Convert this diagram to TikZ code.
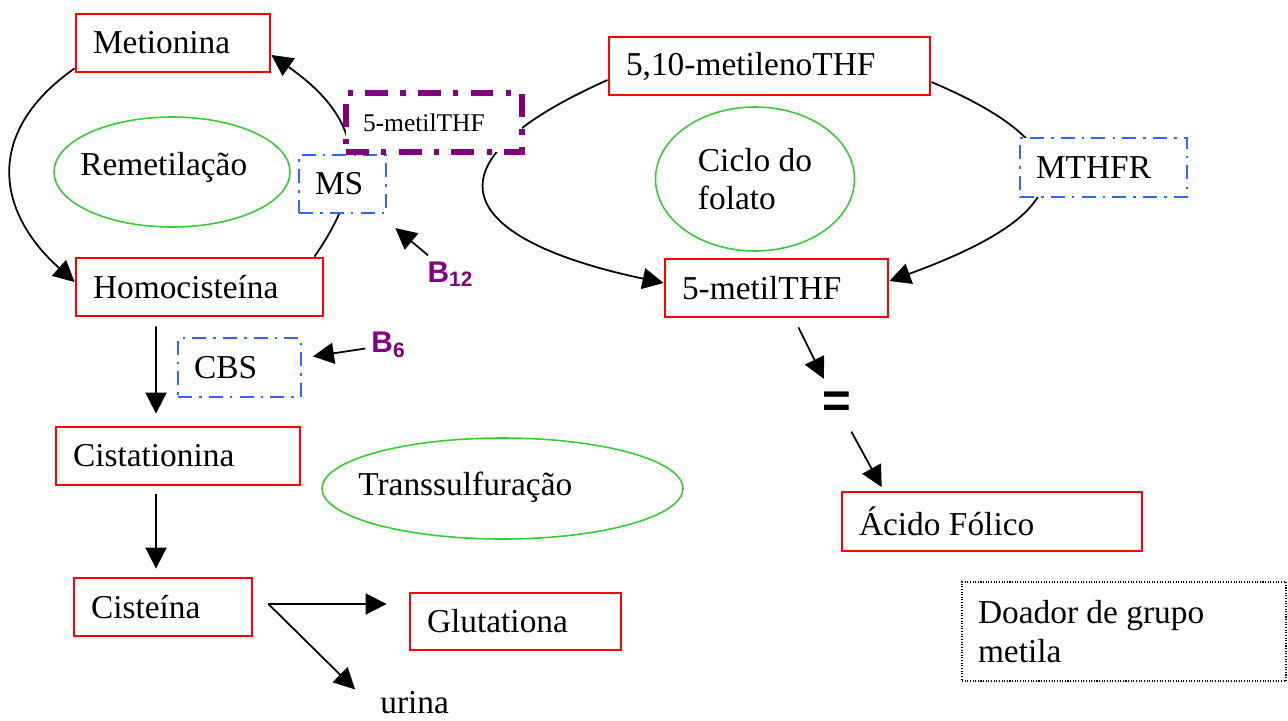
\documentclass[tikz,border=0pt]{standalone}
\usepackage{fontspec}
\setmainfont{Liberation Serif}
\setsansfont{Liberation Sans}
\definecolor{boxred}{RGB}{255,0,0}
\definecolor{ovalgreen}{RGB}{51,204,51}
\definecolor{enzblue}{RGB}{51,102,255}
\definecolor{vitpurple}{RGB}{128,0,128}
\usetikzlibrary{arrows.meta,shapes.geometric,backgrounds}

\begin{document}
\begin{tikzpicture}[font=\fontsize{19}{22}\selectfont,
  arr/.style={-{Triangle[length=12pt,width=12pt]},line width=1pt},
  metab/.style={draw=boxred,line width=1.6pt,inner xsep=0.34cm,minimum height=1.16cm,align=flush left},
  enzyme/.style={draw=enzblue,fill=white,line width=1.1pt,dash pattern=on 8pt off 4pt on 1.5pt off 4pt,inner xsep=0.32cm,minimum height=1.18cm,align=flush left},
  oval/.style={ellipse,draw=ovalgreen,line width=0.9pt,inner sep=0pt,align=flush left},
  vit/.style={text=vitpurple,font=\fontsize{17}{20}\selectfont\sffamily\bfseries}]
  \useasboundingbox (0,0) rectangle (25.76,-14.4);
  \node[metab,text width=3.20cm] (met) at (3.46,-0.86) {Metionina};
  \node[metab,text width=4.26cm] (homo) at (3.99,-5.74) {Homocisteína};
  \node[metab,text width=5.74cm] (metil) at (15.39,-1.32) {5,10-metilenoTHF};
  \node[metab,text width=3.78cm] (mthf) at (15.53,-5.76) {5-metilTHF};
  \node[metab,text width=4.20cm] (cist) at (3.56,-9.12) {Cistationina};
  \node[metab,text width=2.88cm] (ciste) at (3.26,-12.14) {Cisteína};
  \node[metab,text width=3.54cm,minimum height=1.14cm] (glut) at (10.31,-12.43) {Glutationa};
  \node[metab,text width=5.32cm,minimum height=1.18cm] (acido) at (19.84,-10.43) {Ácido Fólico};
  % enzimas
  \node[enzyme,text width=1.10cm,minimum height=1.16cm] (ms) at (6.85,-3.68) {MS};
  \node[enzyme,text width=2.70cm] (mthfr) at (22.07,-3.35) {MTHFR};
  \node[enzyme,text width=1.82cm] (cbs) at (4.79,-7.35) {CBS};
  \node[draw=vitpurple,fill=white,line width=3.4pt,dash pattern=on 13pt off 7pt on 3pt off 7pt,inner xsep=0.34cm,minimum height=1.18cm,text width=2.84cm,align=flush left,font=\fontsize{14.5}{17}\selectfont] (donor) at (8.68,-2.45) {5-metilTHF};
  % ciclos
  \node[oval,minimum width=4.72cm,minimum height=2.2cm] (remet) at (3.44,-3.44) {};
  \node[anchor=west,inner sep=0pt] (remettxt) at (1.6,-3.34) {Remetilação};
  \node[oval,minimum width=3.98cm,minimum height=2.88cm] (folato) at (15.1,-3.58) {Ciclo do\\folato};
  \node[oval,minimum width=7.22cm,minimum height=2.02cm] (transs) at (10.05,-9.77) {};
  \node[anchor=west,inner sep=0pt] (transtxt) at (7.16,-9.74) {Transsulfuração};
  \node[draw,line width=0.6pt,dash pattern=on 0.6pt off 0.9pt,inner xsep=0.32cm,minimum height=1.98cm,text width=5.84cm,align=flush left] (doador) at (22.48,-12.63) {Doador de grupo\\metila};
  % vitaminas
  \node[vit] (b12) at (9.01,-5.48) {B\textsubscript{12}};
  \node[vit] (b6) at (7.77,-6.9) {B\textsubscript{6}};
  \node[inner sep=0pt,font=\fontsize{28}{30}\selectfont\sffamily\bfseries] (eq) at (16.73,-8.09) {=};
  \node[anchor=south west,inner sep=0pt] (urina) at (7.6,-14.28) {urina};
  \coordinate (split) at ([xshift=0.3cm,yshift=0.06cm]ciste.east);
  \begin{scope}[on background layer]
    \draw[arr] ([yshift=0.1cm]met.south west) to[out=215,in=138,looseness=1.3] ([yshift=0.1cm]homo.west);
    \draw[arr] ([xshift=-0.2cm]homo.north east) to[out=55,in=-35,looseness=1.3] ([yshift=-0.24cm]met.east);
    \draw[arr] ([yshift=-0.28cm]metil.west) to[out=204,in=168,looseness=2.55] ([yshift=0.1cm]mthf.west);
    \draw[arr] ([yshift=-0.32cm]metil.east) to[out=-23,in=20,looseness=2.35] ([yshift=0.14cm]mthf.east);
  \end{scope}
  \draw[arr] ([xshift=-0.87cm,yshift=-0.18cm]homo.south) -- ([xshift=-0.44cm,yshift=0.24cm]cist.north);
  \draw[arr] ([xshift=-0.44cm,yshift=-0.16cm]cist.south) -- ([xshift=-0.14cm,yshift=0.16cm]ciste.north);
  \draw[arr,shorten >=0.44cm] (split) -- (split -| glut.west);
  \draw[arr,shorten >=0.7cm] (split) -- (urina.south west);
  \draw[arr,shorten >=0.44cm] (b12) -- (ms);
  \draw[arr,shorten >=0.22cm] (b6) -- (cbs);
  \draw[arr,shorten <=0.2cm,shorten >=0.28cm] ([xshift=0.35cm]mthf.south) -- (eq);
  \draw[arr,shorten <=0.32cm,shorten >=0.08cm] (eq) -- ([xshift=0.86cm]acido.north west);
\end{tikzpicture}
\end{document}
